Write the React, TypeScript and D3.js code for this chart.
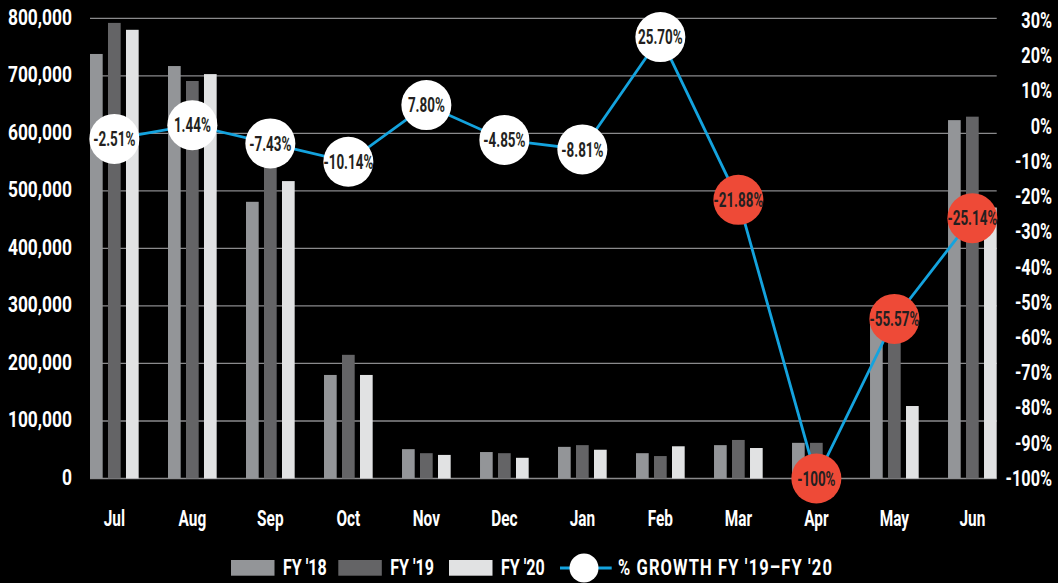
import React from "react";
import * as d3 from "d3";

const months = ["Jul", "Aug", "Sep", "Oct", "Nov", "Dec", "Jan", "Feb", "Mar", "Apr", "May", "Jun"];
const fy18 = [738000, 717000, 481000, 180000, 51000, 46000, 55000, 44000, 58000, 62000, 285000, 623000];
const fy19 = [792000, 691000, 558000, 215000, 44000, 44000, 58000, 39000, 67000, 62000, 284000, 629000];
const fy20 = [780000, 703000, 517000, 180000, 41000, 36000, 50000, 56000, 53000, 0, 126000, 471000];
// growth points as plotted in the picture (right axis, %)
const growth = [-3.6, 0.3, -4.9, -10.1, 6.0, -3.9, -6.6, 25.3, -20.9, -100, -54.7, -26.1];
const growthLabels = ["-2.51%", "1.44%", "-7.43%", "-10.14%", "7.80%", "-4.85%", "-8.81%", "25.70%", "-21.88%", "-100%", "-55.57%", "-25.14%"];
const leftTicks = [0, 100000, 200000, 300000, 400000, 500000, 600000, 700000, 800000];
const rightTicks = [30, 20, 10, 0, -10, -20, -30, -40, -50, -60, -70, -80, -90, -100];
const seriesKeys = ["FY '18", "FY '19", "FY '20"];
const seriesColors = ["#939598", "#646466", "#e1e2e3"];
const growthKey = "% GROWTH FY '19–FY '20";

const FONT = "Roboto, 'Noto Sans', sans-serif";
const LINE_COLOR = "#14a3de";
const RED = "#ee4a37";

type TProps = {
  x: number;
  y: number;
  sx: number;
  size: number;
  anchor?: "start" | "middle" | "end";
  fill?: string;
  ls?: number;
  children: React.ReactNode;
};

function T({ x, y, sx, size, anchor = "start", fill = "#fff", ls = 0, children }: TProps) {
  return (
    <text
      transform={`translate(${x},${y}) scale(${sx},1)`}
      textAnchor={anchor}
      dominantBaseline="central"
      fill={fill}
      fontSize={size}
      letterSpacing={ls}
    >
      {children}
    </text>
  );
}

export default function App() {
  const W = 1058;
  const H = 583;
  const x0 = d3.scaleBand<string>().domain(months).range([90, 996.7]).paddingInner(0.376).paddingOuter(0);
  const x1 = d3.scaleBand<string>().domain(seriesKeys).range([0, x0.bandwidth()]).paddingInner(0.295).paddingOuter(0);
  const yL = d3.scaleLinear().domain([0, 800000]).range([478.5, 18.3]);
  const yR = d3.scaleLinear().domain([-100, 30]).range([478.5, 20.5]);
  const fmt = d3.format(",");
  const series = [fy18, fy19, fy20];
  const cx = (m: string) => (x0(m) as number) + x0.bandwidth() / 2;
  const line = d3
    .line<number>()
    .x((_, i) => cx(months[i]))
    .y((d) => yR(d));

  return (
    <svg
      width={W}
      height={H}
      style={{ position: "absolute", left: 0, top: 0, display: "block", background: "#000" }}
      fontFamily={FONT}
      fontWeight={700}
    >
      <rect x={0} y={0} width={W} height={H} fill="#000" />
      {/* gridlines */}
      {leftTicks.map((t) => (
        <line key={"g" + t} x1={90} x2={996.7} y1={yL(t)} y2={yL(t)} stroke="#8a8a8c" strokeWidth={1.3} />
      ))}
      {/* left axis labels */}
      {leftTicks.map((t) => (
        <T key={"l" + t} x={72} y={yL(t) - 1} sx={0.79} size={22} anchor="end">
          {fmt(t)}
        </T>
      ))}
      {/* right axis labels */}
      {rightTicks.map((t) => (
        <T key={"r" + t} x={1052} y={yR(t)} sx={0.74} size={22} anchor="end">
          {t + "%"}
        </T>
      ))}
      {/* bars */}
      {months.map((m, i) => (
        <g key={"b" + m} transform={`translate(${x0(m)},0)`}>
          {series.map((s, k) => (
            <rect
              key={k}
              x={x1(seriesKeys[k])}
              y={yL(s[i])}
              width={x1.bandwidth()}
              height={yL(0) - yL(s[i])}
              fill={seriesColors[k]}
            />
          ))}
        </g>
      ))}
      {/* month labels */}
      {months.map((m) => (
        <T key={"m" + m} x={cx(m)} y={518} sx={0.7} size={22} anchor="middle">
          {m}
        </T>
      ))}
      {/* growth line */}
      <path d={line(growth) || ""} fill="none" stroke={LINE_COLOR} strokeWidth={2.8} />
      {growth.map((g, i) => (
        <g key={"c" + i}>
          <circle cx={cx(months[i])} cy={yR(g)} r={25} fill={g <= -20 ? RED : "#fff"} />
          <T x={cx(months[i])} y={yR(g)} sx={0.64} size={21} anchor="middle" fill="#231f20">
            {growthLabels[i]}
          </T>
        </g>
      ))}
      {/* legend */}
      {seriesKeys.map((k, i) => {
        const sx = [231, 338.3, 449][i];
        return (
          <g key={"lg" + k}>
            <rect x={sx} y={560} width={43.5} height={15.7} fill={seriesColors[i]} />
            <T x={sx + 52} y={568} sx={0.73} size={22}>
              {k}
            </T>
          </g>
        );
      })}
      <line x1={560} x2={611.7} y1={568} y2={568} stroke={LINE_COLOR} strokeWidth={2.8} />
      <circle cx={584} cy={568} r={14.5} fill="#fff" />
      <T x={618} y={568} sx={0.75} size={22} ls={1.5}>
        {growthKey}
      </T>
    </svg>
  );
}
